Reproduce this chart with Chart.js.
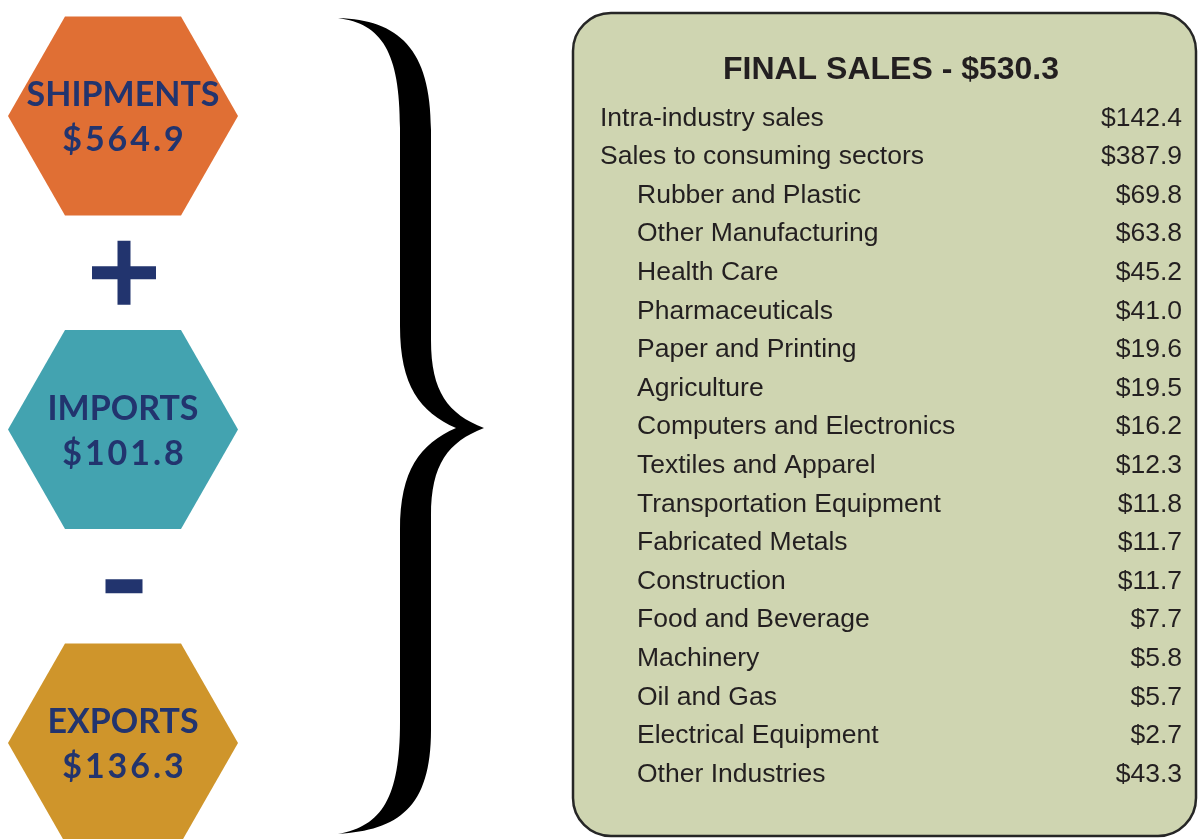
<!DOCTYPE html>
<html>
<head>
<meta charset="utf-8">
<script src="https://cdn.jsdelivr.net/npm/chart.js@4.4.1/dist/chart.umd.min.js"></script>
<style>
  body { margin: 0; background: #fff; }
  canvas { display: block; }
</style>
</head>
<body>
<canvas id="salesChart" width="1198" height="839"></canvas>
<script>
// values in billions of dollars
const hexLabels = ['SHIPMENTS', 'IMPORTS', 'EXPORTS'];
const hexValues = [564.9, 101.8, 136.3];
const hexColors = ['#e06f34', '#43a3b0', '#cf952b'];
const operatorSigns = ['cross', 'line']; // + between shipments/imports, - between imports/exports

const finalSalesTitle = 'FINAL SALES';
const finalSalesTotal = 530.3;

const summaryLabels = ['Intra-industry sales', 'Sales to consuming sectors'];
const summaryValues = [142.4, 387.9];

const sectorLabels = [
  'Rubber and Plastic', 'Other Manufacturing', 'Health Care', 'Pharmaceuticals',
  'Paper and Printing', 'Agriculture', 'Computers and Electronics', 'Textiles and Apparel',
  'Transportation Equipment', 'Fabricated Metals', 'Construction', 'Food and Beverage',
  'Machinery', 'Oil and Gas', 'Electrical Equipment', 'Other Industries'
];
const sectorValues = [69.8, 63.8, 45.2, 41.0, 19.6, 19.5, 16.2, 12.3, 11.8, 11.7, 11.7, 7.7, 5.8, 5.7, 2.7, 43.3];

const NAVY = '#22346e';
const TEXT = '#231f20';
const money = v => '$' + v.toFixed(1);

// table rows: summary rows first, then the indented sector rows
const rowLabels = summaryLabels.concat(sectorLabels);
const rowValues = summaryValues.concat(sectorValues);
const rowIndent = rowLabels.map((l, i) => i < summaryLabels.length ? 0 : 1);

const infographic = {
  id: 'infographic',
  beforeDatasetsDraw(chart) {
    const ctx = chart.ctx;
    ctx.save();
    // panel behind the table
    ctx.beginPath();
    ctx.roundRect(573, 13, 623, 823, 38);
    ctx.fillStyle = '#cfd5b1';
    ctx.fill();
    ctx.lineWidth = 2.5;
    ctx.strokeStyle = '#262626';
    ctx.stroke();

    // big curly brace
    ctx.beginPath();
    ctx.moveTo(338, 18);
    ctx.bezierCurveTo(398, 20, 431, 48, 431, 130);
    ctx.lineTo(431, 340);
    ctx.bezierCurveTo(431, 392, 448, 414, 484, 428);
    ctx.bezierCurveTo(448, 442, 431, 464, 431, 516);
    ctx.lineTo(431, 730);
    ctx.bezierCurveTo(431, 808, 398, 830, 338, 834);
    ctx.bezierCurveTo(382, 826, 400, 798, 400, 722);
    ctx.lineTo(400, 530);
    ctx.bezierCurveTo(400, 470, 420, 444, 456, 428);
    ctx.bezierCurveTo(420, 412, 400, 386, 400, 326);
    ctx.lineTo(400, 128);
    ctx.bezierCurveTo(400, 52, 382, 24, 338, 18);
    ctx.closePath();
    ctx.fillStyle = '#000';
    ctx.fill();

    // hexagons at the positions of the hexagon dataset
    const hexMeta = chart.getDatasetMeta(0);
    hexMeta.data.forEach((pt, i) => {
      const cx = pt.x, cy = pt.y, hw = 115, tw = 58, hh = 99.5;
      ctx.beginPath();
      ctx.moveTo(cx - tw, cy - hh);
      ctx.lineTo(cx + tw, cy - hh);
      ctx.lineTo(cx + hw, cy);
      ctx.lineTo(cx + tw, cy + hh);
      ctx.lineTo(cx - tw, cy + hh);
      ctx.lineTo(cx - hw, cy);
      ctx.closePath();
      ctx.fillStyle = hexColors[i];
      ctx.fill();
    });
    ctx.restore();
  },
  afterDatasetsDraw(chart) {
    const ctx = chart.ctx;
    ctx.save();
    ctx.textBaseline = 'middle';

    const hexMeta = chart.getDatasetMeta(0);
    ctx.fillStyle = NAVY;
    ctx.textAlign = 'center';
    hexMeta.data.forEach((pt, i) => {
      ctx.font = 'bold 34px Lato';
      ctx.letterSpacing = '0px';
      ctx.fillText(hexLabels[i], pt.x, pt.y - 21);
      ctx.letterSpacing = '3px';
      ctx.fillText(money(hexValues[i]), pt.x + 1.5, pt.y + 24);
    });
    ctx.letterSpacing = '0px';

    // table
    const yRow = chart.scales.yRow;
    ctx.fillStyle = TEXT;
    ctx.textAlign = 'center';
    ctx.font = 'bold 32px "Liberation Sans", Arial';
    ctx.fillText(finalSalesTitle + ' - ' + money(finalSalesTotal), 891, yRow.getPixelForValue(-1.25));

    const rowMeta = chart.getDatasetMeta(2);
    ctx.font = '26.5px "Liberation Sans", Arial';
    rowMeta.data.forEach((pt, i) => {
      ctx.textAlign = 'left';
      ctx.fillText(rowLabels[i], pt.x + rowIndent[i] * 37, pt.y);
      ctx.textAlign = 'right';
      ctx.fillText(money(rowValues[i]), 1182, pt.y);
    });
    ctx.restore();
  }
};

new Chart(document.getElementById('salesChart'), {
  type: 'scatter',
  data: {
    datasets: [
      {
        label: 'Flows',
        data: hexValues.map((v, i) => ({ x: 123, y: i })),
        yAxisID: 'yHex',
        pointRadius: 0
      },
      {
        label: 'Operators',
        data: operatorSigns.map((s, i) => ({ x: 124, y: i + 0.5 })),
        yAxisID: 'yHex',
        pointStyle: operatorSigns,
        pointRadius: [32, 18.5],
        pointBorderWidth: [13, 14],
        pointBorderColor: NAVY,
        pointBackgroundColor: NAVY
      },
      {
        label: 'Final sales',
        data: rowValues.map((v, i) => ({ x: 600, y: i })),
        yAxisID: 'yRow',
        pointRadius: 0
      }
    ]
  },
  options: {
    responsive: false,
    animation: false,
    events: [],
    layout: { padding: 0, autoPadding: false },
    plugins: { legend: { display: false }, tooltip: { enabled: false } },
    scales: {
      x: { type: 'linear', min: 0, max: 1198, display: false },
      y: { display: false },
      yHex: { type: 'linear', reverse: true, min: -0.370, max: 2.306, display: false },
      yRow: { type: 'linear', reverse: true, min: -3.065, max: 18.671, display: false }
    }
  },
  plugins: [infographic]
});
</script>
</body>
</html>
